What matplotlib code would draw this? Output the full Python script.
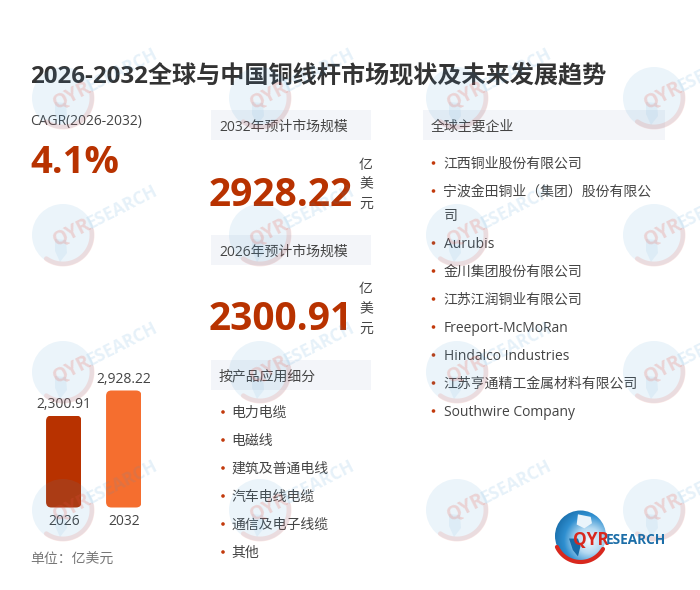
import numpy as np
import matplotlib
matplotlib.use('agg')
import matplotlib.pyplot as plt
from matplotlib.colors import LinearSegmentedColormap
from matplotlib.patches import Circle, FancyBboxPatch, Polygon, Rectangle

plt.rcParams['font.family'] = ['Open Sans', 'Noto Sans CJK SC', 'DejaVu Sans']

title = '2026-2032全球与中国铜线杆市场现状及未来发展趋势'
cagr_label = 'CAGR(2026-2032)'
cagr_value = '4.1%'
years = ['2026', '2032']
market_size = [2300.91, 2928.22]
bar_colors = ['#b83200', '#f56e2f']
unit = '单位：亿美元'
segments = ['电力电缆', '电磁线', '建筑及普通电线', '汽车电线电缆', '通信及电子线缆', '其他']
companies = ['江西铜业股份有限公司', '宁波金田铜业（集团）股份有限公\n司', 'Aurubis', '金川集团股份有限公司',
             '江苏江润铜业有限公司', 'Freeport-McMoRan', 'Hindalco Industries',
             '江苏亨通精工金属材料有限公司', 'Southwire Company']

TXT = '#444444'
RED = '#b83200'
W, H = 700, 590

fig = plt.figure(figsize=(7, 5.9), dpi=100, facecolor='white')

# page layout, axes in pixels
page = fig.add_axes([0, 0, 1, 1], zorder=1)
page.set_xlim(0, W)
page.set_ylim(H, 0)
page.axis('off')

page.text(30, 76.5, title, fontsize=17.4, fontweight='bold', color='#333333', va='center')
page.text(30, 121, cagr_label, fontsize=10, color=TXT, va='center')
page.text(30, 163, cagr_value, fontsize=27.5, fontweight='bold', color=RED, va='center')
page.text(30, 560, unit, fontsize=10, color='#777777', va='center')


def header(x, y, w, label):
    page.add_patch(Rectangle((x, y), w, 30, fc='#f3f5f9', ec='none'))
    page.text(x + 8, y + 17, label, fontsize=10, color=TXT, va='center')


header(211, 110, 160, '2032年预计市场规模')
header(211, 235, 160, '2026年预计市场规模')
header(211, 360, 160, '按产品应用细分')
header(423, 110, 242, '全球主要企业')

for val, y in zip(market_size[::-1], [195, 320]):
    page.text(209, y, f'{val:.2f}', fontsize=28, fontweight='bold', color=RED, va='center')
    for k, ch in enumerate('亿美元'):
        page.text(366, y - 30 + k * 19.5, ch, fontsize=10, color=TXT, ha='center', va='center')

for i, s in enumerate(segments):
    y = 412 + i * 28
    page.add_patch(Circle((223, y), 1.8, fc='#c23a0c', ec='none'))
    page.text(231.5, y + 1.5, s, fontsize=10, color=TXT, va='center')

y = 163
for c in companies:
    page.add_patch(Circle((433.5, y), 1.8, fc='#c23a0c', ec='none'))
    lines = c.split('\n')
    for k, part in enumerate(lines):
        page.text(443.5, y + 1.5 + k * 24, part, fontsize=10, color=TXT, va='center')
    y += 28 + (len(lines) - 1) * 24

# bars
bx0, bx1, by0, by1 = 30, 160, 370, 507.5
ax = fig.add_axes([bx0 / W, 1 - by1 / H, (bx1 - bx0) / W, (by1 - by0) / H], zorder=2)
ax.patch.set_alpha(0)
ax.axis('off')
ax.set_xlim(-0.5625, 1.604)
ax.set_ylim(0, 3441)
aspect = (3441 / 137.5) * 60
bars = ax.bar(range(2), market_size, width=0.59, color=bar_colors)
for b, val, yr in zip(bars, market_size, years):
    clip = FancyBboxPatch((b.get_x(), 0), b.get_width(), val, boxstyle='round,pad=0,rounding_size=0.09',
                          mutation_aspect=aspect, fc='none', ec='none')
    ax.add_patch(clip)
    b.set_clip_path(clip)
    cx = b.get_x() + b.get_width() / 2
    ax.annotate(f'{val:,.2f}', (cx, val), xytext=(0, 2.5), textcoords='offset points', ha='center', va='bottom',
                fontsize=10, color=TXT, annotation_clip=False)
    ax.annotate(yr, (cx, 0), xytext=(0, -4.5), textcoords='offset points', ha='center', va='top',
                fontsize=10, color=TXT, annotation_clip=False)

# watermarks + logo on top
top = fig.add_axes([0, 0, 1, 1], zorder=3)
top.patch.set_alpha(0)
top.axis('off')


def arc_pts(cx, cy, r, a0, a1):
    t = np.radians(np.linspace(a0, a1, 40))
    return cx + r * np.cos(t), cy + r * np.sin(t)


def watermark(cx, cy):
    top.add_patch(Circle((cx, cy), 31, fc='#3f95d0', ec='none', alpha=0.10))
    # rough continent, darker patch at lower middle
    top.add_patch(Polygon([(cx - 8, cy + 4), (cx + 3, cy + 5), (cx + 4, cy + 18), (cx - 3, cy + 27), (cx - 8, cy + 16)],
                          fc='#3f95d0', ec='none', alpha=0.08))
    xs, ys = arc_pts(cx, cy, 29, -10, 125)
    top.plot(xs, ys, color='#e8503f', lw=3.5, alpha=0.14, solid_capstyle='round')
    sx, sy = cx - 6, cy + 11
    rot = 27
    top.text(sx, sy, 'QYR', fontsize=14, fontweight='bold', color='#e8503f', alpha=0.2,
             rotation=rot, rotation_mode='anchor', va='baseline', clip_on=True)
    d = 38
    top.text(sx + d * np.cos(np.radians(rot)), sy - d * np.sin(np.radians(rot)), 'ESEARCH', fontsize=12.5,
             fontweight='bold', color='#3f95d0', alpha=0.13, rotation=rot, rotation_mode='anchor', va='baseline',
             clip_on=True)


for wx in [63, 260, 457, 654]:
    for wy in [98, 235, 372, 510]:
        watermark(wx, wy)

# logo
lx, ly, lr = 580.5, 536, 25.5
gy, gx = np.mgrid[-1:1:120j, -1:1:120j]
grad = np.hypot(gx - 0.35, gy - 0.2)
cmap = LinearSegmentedColormap.from_list('globe', ['#f4f9fd', '#b5daf2', '#2f8fd0', '#176aa6'])
im = top.imshow(grad, extent=(lx - lr, lx + lr, ly + lr, ly - lr), cmap=cmap, vmin=0, vmax=1.5, zorder=5)
im.set_clip_path(Circle((lx, ly), lr, transform=top.transData))
top.set_xlim(0, W)
top.set_ylim(H, 0)
top.set_aspect('auto')
for pts, c in (([(-0.1, -0.85), (0.4, -0.75), (0.45, -0.5), (0.15, -0.3), (-0.15, -0.45)], '#eaf4fb'),
               ([(-0.45, 0.1), (-0.1, 0.1), (0.0, 0.4), (-0.1, 0.8), (-0.3, 0.55)], '#176aa6')):
    top.add_patch(Polygon([(lx + lr * a, ly + lr * b) for a, b in pts], fc=c, ec='none', zorder=6))
xs, ys = arc_pts(lx, ly, 26, 30, 155)
top.plot(xs, ys, color='#d8281e', lw=3, solid_capstyle='round', zorder=7)
top.text(573, 545, 'QYR', fontsize=12.5, fontweight='bold', color='#d8281e', va='baseline', zorder=8)
top.text(606, 543.5, 'ESEARCH', fontsize=9.8, fontweight='bold', color='#1c6ea8', va='baseline', zorder=8)

fig.savefig('out.png', dpi=100, facecolor='white')
